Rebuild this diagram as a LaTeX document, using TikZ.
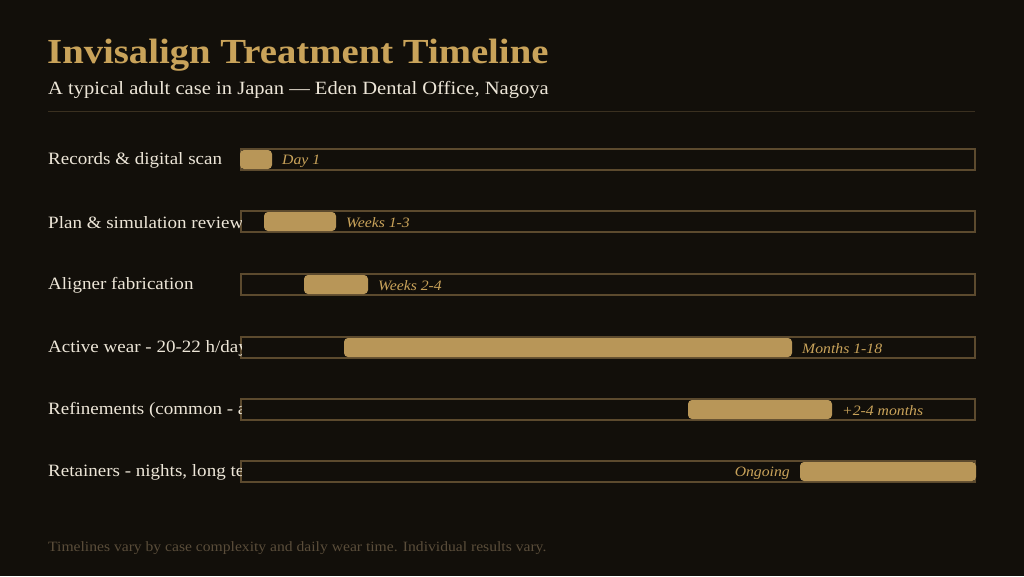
\documentclass[tikz,border=0pt]{standalone}
\usepackage{fontspec}
\setmainfont[FakeStretch=1.1]{Liberation Serif}
\definecolor{bgdark}{HTML}{120F0A}
\definecolor{gold}{HTML}{C9A35A}
\definecolor{bargold}{HTML}{B89658}
\definecolor{trackline}{HTML}{5C4A2E}
\definecolor{rule}{HTML}{3A3020}
\definecolor{ivory}{HTML}{EDE6D8}
\definecolor{faint}{HTML}{5A4D3A}
\tikzset{
  phase/.style={anchor=west, inner sep=0pt, text=ivory, font=\fontsize{17.3}{20}\selectfont},
  track/.style={draw=trackline, line width=1.3pt, fill=bgdark},
  bar/.style={fill=bargold, rounded corners=4pt},
  when/.style={inner sep=0pt, text=gold, font=\fontsize{14.3}{17}\selectfont\itshape}
}
\begin{document}
\begin{tikzpicture}[x=1pt, y=-1pt]
\useasboundingbox (0,0) rectangle (1024,576);
\fill [bgdark] (0,0) rectangle (1024,576);
% heading
\node [anchor=base west, inner sep=0pt, text=gold, font=\fontsize{35.2}{40}\selectfont\bfseries] (title) at (47,63) {Invisalign Treatment Timeline};
\node [anchor=base west, inner sep=0pt, text=ivory, font=\fontsize{18.7}{22}\selectfont] (sub) at (48,94) {A typical adult case in Japan — Eden Dental Office, Nagoya};
\coordinate (r1) at (48,111);
\coordinate (r2) at (975,111);
\draw [rule, line width=1pt] (r1) -- (r2);
% tracks
\draw [track] (241,149) rectangle (975,170);
\draw [track] (241,211) rectangle (975,232);
\draw [track] (241,274) rectangle (975,295);
\draw [track] (241,337) rectangle (975,358);
\draw [track] (241,399) rectangle (975,420);
\draw [track] (241,461) rectangle (975,482);
% bars
\fill [bar] (240,150) rectangle (272,169);
\fill [bar] (264,212) rectangle (336,231);
\fill [bar] (304,275) rectangle (368,294);
\fill [bar] (344,338) rectangle (792,357);
\fill [bar] (688,400) rectangle (832,419);
\fill [bar] (800,462) rectangle (976,481);
% phase names, cut at the track
\begin{scope}
\clip (40,130) rectangle (241,495);
\node [phase] (rec) at (48,160.5) {Records \& digital scan};
\node [phase] (plan) at (48,222.5) {Plan \& simulation review};
\node [phase] (fab) at (48,285.5) {Aligner fabrication};
\node [phase] (wear) at (48,348.5) {Active wear - 20-22 h/day};
\node [phase] (refine) at (48,410.5) {Refinements (common - as needed)};
\node [phase] (retain) at (48,472.5) {Retainers - nights, long term};
\end{scope}
% durations
\node [when, anchor=west] (d1) at (282,161) {Day 1};
\node [when, anchor=west] (d2) at (346,223) {Weeks 1-3};
\node [when, anchor=west] (d3) at (378,286) {Weeks 2-4};
\node [when, anchor=west] (d4) at (802,349) {Months 1-18};
\node [when, anchor=west] (d5) at (842,411) {+2-4 months};
\node [when, anchor=east] (d6) at (790,473) {Ongoing};
% footnote
\node [anchor=base west, inner sep=0pt, text=faint, font=\fontsize{14.2}{16}\selectfont] (note) at (48,551) {Timelines vary by case complexity and daily wear time. Individual results vary.};
\end{tikzpicture}
\end{document}
